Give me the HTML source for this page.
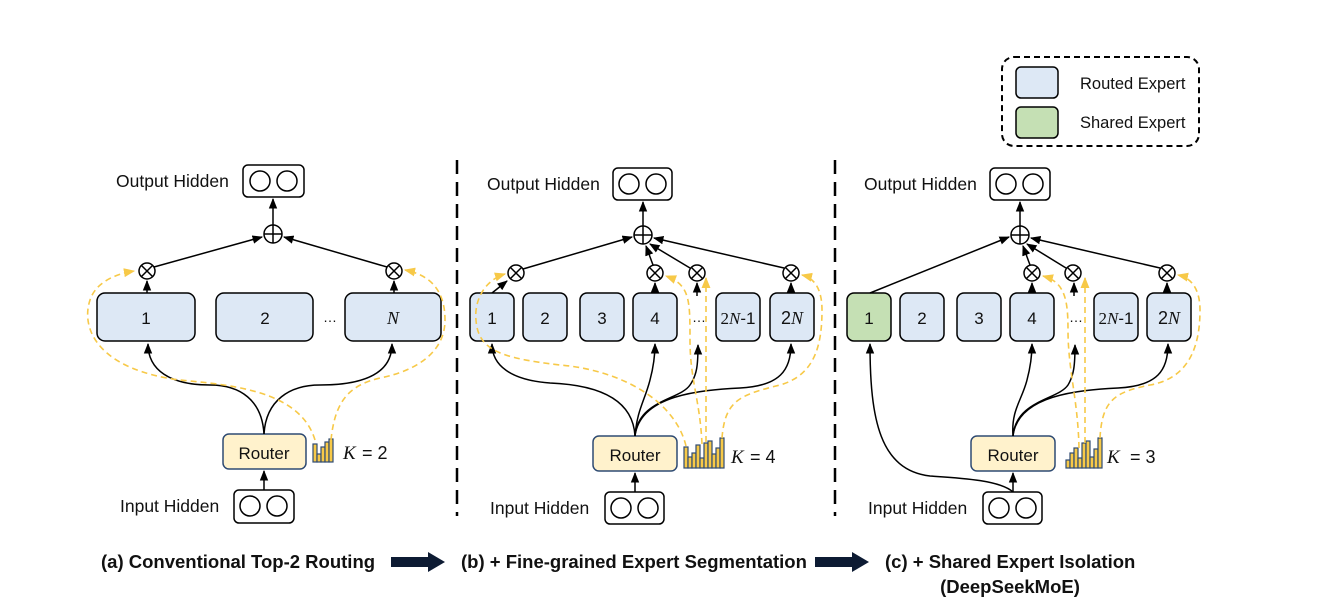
<!DOCTYPE html>
<html><head><meta charset="utf-8"><style>
body{margin:0;background:#fff}
svg{display:block}
text{font-family:"Liberation Sans",sans-serif;fill:#111}
.m{font-family:"Liberation Serif",serif;font-style:italic}
.cap{font-weight:bold;font-size:18.5px}
.lb{font-size:17.5px}
</style></head><body>
<svg width="1338" height="603" viewBox="0 0 1338 603" xmlns="http://www.w3.org/2000/svg">
<defs>
<marker id="ah" viewBox="0 0 10 10" refX="9" refY="5" markerWidth="7" markerHeight="7" orient="auto"><path d="M0,1 L10,5 L0,9 z" fill="#000"/></marker>
<marker id="ay" viewBox="0 0 10 10" refX="9" refY="5" markerWidth="7" markerHeight="7" orient="auto"><path d="M0,1 L10,5 L0,9 z" fill="#f7c948"/></marker>
</defs>
<g fill="none" stroke="#000" stroke-width="1.6">
<rect x="1002" y="57" width="197" height="89" rx="12" stroke-dasharray="6,4" stroke-width="2"/>
</g>
<rect x="1016" y="67" width="42" height="31" rx="5" fill="#dde8f5" stroke="#000" stroke-width="1.5"/>
<rect x="1016" y="107" width="42" height="31" rx="5" fill="#c5e0b4" stroke="#000" stroke-width="1.5"/>
<text x="1080" y="89" font-size="16.5">Routed Expert</text>
<text x="1080" y="128" font-size="16.5">Shared Expert</text>

<line x1="457" y1="160" x2="457" y2="516" stroke="#000" stroke-width="2.5" stroke-dasharray="14,8"/>
<line x1="835" y1="160" x2="835" y2="516" stroke="#000" stroke-width="2.5" stroke-dasharray="14,8"/>

<!-- ============ PANEL A ============ -->
<g stroke="#000" stroke-width="1.5">
<rect x="243" y="165" width="61" height="32" rx="5" fill="#fff"/>
<circle cx="260" cy="181" r="10" fill="none"/><circle cx="287" cy="181" r="10" fill="none"/>
<rect x="234" y="490" width="60" height="33" rx="5" fill="#fff"/>
<circle cx="250" cy="506" r="10" fill="none"/><circle cx="277" cy="506" r="10" fill="none"/>
<rect x="97" y="293" width="98" height="48" rx="8" fill="#dde8f5"/>
<rect x="216" y="293" width="97" height="48" rx="8" fill="#dde8f5"/>
<rect x="345" y="293" width="96" height="48" rx="8" fill="#dde8f5"/>
<rect x="223" y="434" width="83" height="35" rx="6" fill="#fff2cc" stroke="#2f4b73"/>
</g>
<text x="116" y="187" class="lb">Output Hidden</text>
<text x="120" y="512" class="lb">Input Hidden</text>
<text x="146" y="324" font-size="17" text-anchor="middle">1</text>
<text x="265" y="324" font-size="17" text-anchor="middle">2</text>
<text x="393" y="324" font-size="18" text-anchor="middle" class="m">N</text>
<text x="330" y="322" font-size="14" text-anchor="middle">…</text>
<text x="264" y="459" font-size="17" text-anchor="middle">Router</text>
<text x="343" y="459" font-size="19" class="m">K</text><text x="362" y="459" font-size="18" font-family="Liberation Serif">= 2</text>
<g fill="#f7c948" stroke="#2f4b73" stroke-width="1.2">
<rect x="313" y="444" width="4" height="18"/><rect x="317" y="454" width="4" height="8"/><rect x="321" y="447" width="4" height="15"/><rect x="325" y="442" width="4" height="20"/><rect x="329" y="439" width="4" height="23"/>
</g>
<g fill="none" stroke="#000" stroke-width="1.5">
<circle cx="273" cy="234" r="9"/><path d="M264,234h18M273,225v18"/>
<circle cx="147" cy="271" r="8"/><path d="M141,265l12,12M153,265l-12,12"/>
<circle cx="394" cy="271" r="8"/><path d="M388,265l12,12M400,265l-12,12"/>
<path d="M273,225 V199" marker-end="url(#ah)"/>
<path d="M154,267 L262,237" marker-end="url(#ah)"/>
<path d="M387,267 L284,237" marker-end="url(#ah)"/>
<path d="M147,293 V281" marker-end="url(#ah)"/>
<path d="M394,293 V281" marker-end="url(#ah)"/>
<path d="M264,434 C262,400 240,385 210,385 C170,385 148,370 148,344" marker-end="url(#ah)"/>
<path d="M264,434 C266,400 290,385 320,385 C370,385 392,370 392,344" marker-end="url(#ah)"/>
<path d="M264,490 V471" marker-end="url(#ah)"/>
</g>
<g fill="none" stroke="#f7c948" stroke-width="1.6" stroke-dasharray="6,4">
<path d="M315,440 C300,390 230,385 180,380 C100,370 80,330 90,300 C95,285 110,275 134,271" marker-end="url(#ay)"/>
<path d="M331,440 C335,400 350,385 380,378 C420,370 445,350 445,320 C445,290 430,275 405,270" marker-end="url(#ay)"/>
</g>

<!-- ============ PANEL B ============ -->
<g stroke="#000" stroke-width="1.5">
<rect x="613" y="168" width="59" height="32" rx="5" fill="#fff"/>
<circle cx="629" cy="184" r="10" fill="none"/><circle cx="656" cy="184" r="10" fill="none"/>
<rect x="605" y="492" width="59" height="32" rx="5" fill="#fff"/>
<circle cx="621" cy="508" r="10" fill="none"/><circle cx="648" cy="508" r="10" fill="none"/>
<rect x="470" y="293" width="44" height="48" rx="7" fill="#dde8f5"/>
<rect x="523" y="293" width="44" height="48" rx="7" fill="#dde8f5"/>
<rect x="580" y="293" width="44" height="48" rx="7" fill="#dde8f5"/>
<rect x="633" y="293" width="44" height="48" rx="7" fill="#dde8f5"/>
<rect x="716" y="293" width="44" height="48" rx="7" fill="#dde8f5"/>
<rect x="770" y="293" width="44" height="48" rx="7" fill="#dde8f5"/>
<rect x="593" y="436" width="84" height="35" rx="6" fill="#fff2cc" stroke="#2f4b73"/>
</g>
<text x="487" y="190" class="lb">Output Hidden</text>
<text x="490" y="514" class="lb">Input Hidden</text>
<g font-size="17" text-anchor="middle">
<text x="492" y="324">1</text><text x="545" y="324">2</text><text x="602" y="324">3</text><text x="655" y="324">4</text>
<text x="699" y="322" font-size="14">…</text>
<text x="738" y="324" font-size="17"><tspan font-family="Liberation Serif">2</tspan><tspan class="m">N</tspan>-1</text>
<text x="792" y="324" font-size="18" font-family="Liberation Serif">2<tspan class="m">N</tspan></text>
</g>
<text x="635" y="461" font-size="17" text-anchor="middle">Router</text>
<text x="731" y="463" font-size="19" class="m">K</text><text x="750" y="463" font-size="18" font-family="Liberation Serif">= 4</text>
<g fill="#f7c948" stroke="#2f4b73" stroke-width="1.2">
<rect x="684" y="447" width="4" height="21"/><rect x="688" y="457" width="4" height="11"/><rect x="692" y="453" width="4" height="15"/><rect x="696" y="445" width="4" height="23"/><rect x="700" y="458" width="4" height="10"/><rect x="704" y="443" width="4" height="25"/><rect x="708" y="441" width="4" height="27"/><rect x="712" y="454" width="4" height="14"/><rect x="716" y="448" width="4" height="20"/><rect x="720" y="438" width="4" height="30"/>
</g>
<g fill="none" stroke="#000" stroke-width="1.5">
<circle cx="643" cy="235" r="9"/><path d="M634,235h18M643,226v18"/>
<circle cx="516" cy="273" r="8"/><path d="M510,267l12,12M522,267l-12,12"/>
<circle cx="655" cy="273" r="8"/><path d="M649,267l12,12M661,267l-12,12"/>
<circle cx="697" cy="273" r="8"/><path d="M691,267l12,12M703,267l-12,12"/>
<circle cx="791" cy="273" r="8"/><path d="M785,267l12,12M797,267l-12,12"/>
<path d="M643,226 V202" marker-end="url(#ah)"/>
<path d="M523,269 L632,237" marker-end="url(#ah)"/>
<path d="M653,265 L646,246" marker-end="url(#ah)"/>
<path d="M690,268 L650,244" marker-end="url(#ah)"/>
<path d="M784,268 L654,238" marker-end="url(#ah)"/>
<path d="M492,293 L507,281" marker-end="url(#ah)"/>
<path d="M655,293 V283" marker-end="url(#ah)"/>
<path d="M697,296 V283" marker-end="url(#ah)"/>
<path d="M791,293 V283" marker-end="url(#ah)"/>
<path d="M635,436 C633,400 600,385 550,383 C510,380 492,365 492,344" marker-end="url(#ah)"/>
<path d="M635,436 C637,410 645,400 650,380 C654,365 655,355 655,344" marker-end="url(#ah)"/>
<path d="M635,436 C638,400 680,400 690,385 C697,375 698,365 698,345" marker-end="url(#ah)"/>
<path d="M635,436 C640,395 700,390 740,388 C780,386 791,370 791,344" marker-end="url(#ah)"/>
<path d="M635,492 V473" marker-end="url(#ah)"/>
</g>
<g fill="none" stroke="#f7c948" stroke-width="1.6" stroke-dasharray="6,4">
<path d="M686,446 C675,400 620,370 560,365 C500,358 478,350 476,320 C474,300 485,280 505,274" marker-end="url(#ay)"/>
<path d="M702,444 C700,400 690,380 690,340 C690,300 690,285 666,276" marker-end="url(#ay)"/>
<path d="M706,442 V278" marker-end="url(#ay)"/>
<path d="M722,438 C725,400 740,395 780,385 C815,375 822,345 822,310 C822,290 815,278 802,275" marker-end="url(#ay)"/>
</g>

<!-- ============ PANEL C ============ -->
<g stroke="#000" stroke-width="1.5">
<rect x="990" y="168" width="60" height="32" rx="5" fill="#fff"/>
<circle cx="1006" cy="184" r="10" fill="none"/><circle cx="1033" cy="184" r="10" fill="none"/>
<rect x="983" y="492" width="59" height="32" rx="5" fill="#fff"/>
<circle cx="999" cy="508" r="10" fill="none"/><circle cx="1026" cy="508" r="10" fill="none"/>
<rect x="847" y="293" width="44" height="48" rx="7" fill="#c5e0b4"/>
<rect x="900" y="293" width="44" height="48" rx="7" fill="#dde8f5"/>
<rect x="957" y="293" width="44" height="48" rx="7" fill="#dde8f5"/>
<rect x="1010" y="293" width="44" height="48" rx="7" fill="#dde8f5"/>
<rect x="1094" y="293" width="44" height="48" rx="7" fill="#dde8f5"/>
<rect x="1147" y="293" width="44" height="48" rx="7" fill="#dde8f5"/>
<rect x="971" y="436" width="84" height="35" rx="6" fill="#fff2cc" stroke="#2f4b73"/>
</g>
<text x="864" y="190" class="lb">Output Hidden</text>
<text x="868" y="514" class="lb">Input Hidden</text>
<g font-size="17" text-anchor="middle">
<text x="869" y="324">1</text><text x="922" y="324">2</text><text x="979" y="324">3</text><text x="1032" y="324">4</text>
<text x="1076" y="322" font-size="14">…</text>
<text x="1116" y="324" font-size="17"><tspan font-family="Liberation Serif">2</tspan><tspan class="m">N</tspan>-1</text>
<text x="1169" y="324" font-size="18" font-family="Liberation Serif">2<tspan class="m">N</tspan></text>
</g>
<text x="1013" y="461" font-size="17" text-anchor="middle">Router</text>
<text x="1107" y="463" font-size="19" class="m">K</text><text x="1130" y="463" font-size="18" font-family="Liberation Serif">= 3</text>
<g fill="#f7c948" stroke="#2f4b73" stroke-width="1.2">
<rect x="1066" y="460" width="4" height="8"/><rect x="1070" y="453" width="4" height="15"/><rect x="1074" y="448" width="4" height="20"/><rect x="1078" y="458" width="4" height="10"/><rect x="1082" y="443" width="4" height="25"/><rect x="1086" y="441" width="4" height="27"/><rect x="1090" y="457" width="4" height="11"/><rect x="1094" y="449" width="4" height="19"/><rect x="1098" y="438" width="4" height="30"/>
</g>
<g fill="none" stroke="#000" stroke-width="1.5">
<circle cx="1020" cy="235" r="9"/><path d="M1011,235h18M1020,226v18"/>
<circle cx="1032" cy="273" r="8"/><path d="M1026,267l12,12M1038,267l-12,12"/>
<circle cx="1073" cy="273" r="8"/><path d="M1067,267l12,12M1079,267l-12,12"/>
<circle cx="1167" cy="273" r="8"/><path d="M1161,267l12,12M1173,267l-12,12"/>
<path d="M1020,226 V202" marker-end="url(#ah)"/>
<path d="M870,293 L1009,237" marker-end="url(#ah)"/>
<path d="M1030,265 L1023,246" marker-end="url(#ah)"/>
<path d="M1066,268 L1027,244" marker-end="url(#ah)"/>
<path d="M1160,268 L1031,238" marker-end="url(#ah)"/>
<path d="M1032,293 V283" marker-end="url(#ah)"/>
<path d="M1074,296 V283" marker-end="url(#ah)"/>
<path d="M1167,293 V283" marker-end="url(#ah)"/>
<path d="M1013,436 C1011,410 1022,400 1027,380 C1031,365 1032,355 1032,344" marker-end="url(#ah)"/>
<path d="M1013,436 C1016,400 1058,400 1068,385 C1074,375 1075,365 1075,345" marker-end="url(#ah)"/>
<path d="M1013,436 C1018,395 1078,390 1118,388 C1158,386 1168,370 1168,344" marker-end="url(#ah)"/>
<path d="M1013,492 V473" marker-end="url(#ah)"/>
<path d="M1013,492 C1000,480 960,478 930,476 C880,470 870,420 870,344" marker-end="url(#ah)"/>
</g>
<g fill="none" stroke="#f7c948" stroke-width="1.6" stroke-dasharray="6,4">
<path d="M1079,448 C1078,400 1068,370 1068,330 C1068,300 1065,282 1043,276" marker-end="url(#ay)"/>
<path d="M1085,443 V278" marker-end="url(#ay)"/>
<path d="M1100,438 C1102,400 1115,392 1150,385 C1190,378 1200,345 1200,310 C1200,290 1192,278 1178,275" marker-end="url(#ay)"/>
</g>

<!-- captions -->
<text x="101" y="568" class="cap">(a) Conventional Top-2 Routing</text>
<text x="461" y="568" class="cap">(b) + Fine-grained Expert Segmentation</text>
<text x="885" y="568" class="cap">(c) + Shared Expert Isolation</text>
<text x="1010" y="593" class="cap" text-anchor="middle">(DeepSeekMoE)</text>
<path d="M391,557 H428 V552 L445,562 L428,572 V567 H391 Z" fill="#0d1b33"/>
<path d="M815,557 H852 V552 L869,562 L852,572 V567 H815 Z" fill="#0d1b33"/>
</svg>
</body></html>
